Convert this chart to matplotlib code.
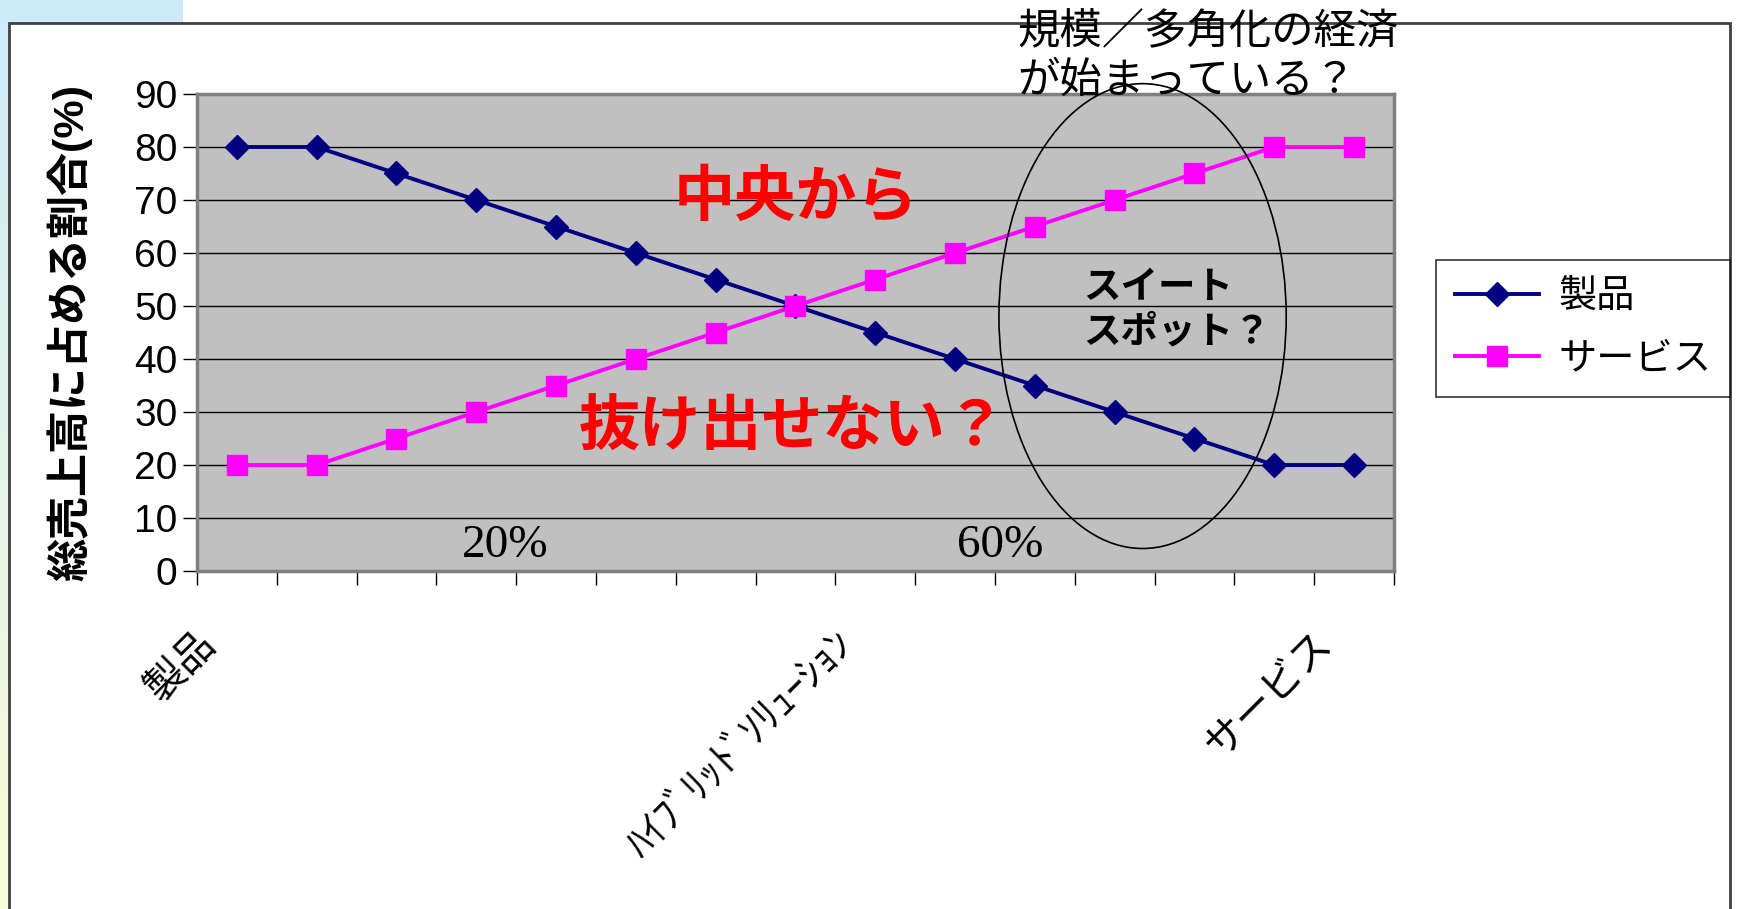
import numpy as np
import matplotlib
matplotlib.use("Agg")
import matplotlib.pyplot as plt
from matplotlib.patches import Ellipse, Rectangle
from matplotlib.transforms import ScaledTranslation

plt.rcParams['font.family'] = ['Liberation Sans', 'Noto Sans CJK JP']

# data
categories = ['製品', '', '', '', '', '', '', '', 'ﾊｲﾌﾞﾘｯﾄﾞｿﾘｭｰｼｮﾝ',
              '', '', '', '', '', 'サービス']
product = [80, 80, 75, 70, 65, 60, 55, 50, 45, 40, 35, 30, 25, 20, 20]
service = [20, 20, 25, 30, 35, 40, 45, 50, 55, 60, 65, 70, 75, 80, 80]
series_names = ['製品', 'サービス']
y_ticks = [0, 10, 20, 30, 40, 50, 60, 70, 80, 90]


def main():
    fig = plt.figure(figsize=(17.37, 9.09), dpi=100)
    fig.patch.set_facecolor('white')

    # slide background (gradient on the left)
    bg = fig.add_axes([0, 0, 1, 1], zorder=-10)
    bg.axis('off')
    top = np.array([0.80, 0.92, 0.98])
    bottom = np.array([0.98, 0.99, 0.84])
    t = np.linspace(0, 1, 256).reshape(-1, 1, 1)
    img = top * (1 - t) + bottom * t
    bg.imshow(img, extent=[0, 0.105, 0, 1], aspect='auto')
    bg.set_xlim(0, 1)
    bg.set_ylim(0, 1)

    # chart frame
    frame = Rectangle((0.0052, -0.02), 0.9908, 0.9947, transform=fig.transFigure,
                      facecolor='white', edgecolor='#404040', lw=2, zorder=-5)
    fig.add_artist(frame)

    ax = fig.add_axes([0.1134, 0.3718, 0.6891, 0.5248])
    ax.set_facecolor('#C0C0C0')
    x = np.arange(len(product))

    ax.plot(x, product, color='#000080', lw=2.8, marker='D', ms=12,
            mec='#000080', label=series_names[0], zorder=3, clip_on=False)
    ax.plot(x, service, color='#FF00FF', lw=2.8, marker='s', ms=14,
            mec='#FF00FF', label=series_names[1], zorder=3, clip_on=False)

    ax.set_xlim(-0.5, len(product) - 0.5)
    ax.set_ylim(0, 90)
    ax.set_yticks(y_ticks)
    ax.yaxis.grid(True, color='black', lw=1)
    ax.set_axisbelow(True)
    for s in ax.spines.values():
        s.set_color('#808080')
        s.set_linewidth(2.5)

    ax.tick_params(axis='y', direction='out', length=10, width=1, pad=4,
                   labelsize=28, color='black')
    ax.set_xticks(x)
    ax.set_xticklabels(categories, rotation=45, ha='right', va='center',
                       rotation_mode='anchor', fontsize=29)
    ax.tick_params(axis='x', which='major', length=0, pad=48)
    ax.set_xticks(np.arange(-0.5, len(product), 1), minor=True)
    ax.tick_params(axis='x', which='minor', direction='out', length=10,
                   width=1, color='black')
    for lab in ax.get_xticklabels():
        lab.set_transform(lab.get_transform() +
                          ScaledTranslation(-20 / 72, 0, fig.dpi_scale_trans))

    ax.set_ylabel('総売上高に占める割合(%)', fontsize=31, fontweight='bold')
    ax.yaxis.set_label_coords(-0.087, 0.5)

    # annotations
    ax.text(7.0, 70, '中央から', color='#FF0000', fontsize=44,
            fontweight='bold', style='italic', ha='center', va='center')
    ax.text(6.96, 26.6, '抜け出せない？', color='#FF0000', fontsize=44,
            fontweight='bold', style='italic', ha='center', va='center')
    ax.text(3.36, 4.7, '20%', fontsize=34, family='Liberation Serif',
            ha='center', va='center')
    ax.text(9.56, 4.7, '60%', fontsize=34, family='Liberation Serif',
            ha='center', va='center')
    ax.add_patch(Ellipse((11.35, 48.1), 3.6, 87.7, fill=False, ec='black',
                         lw=1.2, clip_on=False, zorder=4))
    ax.text(10.6, 49.2, 'スイート\nスポット？', fontsize=27, fontweight='bold',
            ha='left', va='center', linespacing=1.3)
    ax.text(9.78, 96.9, '規模／多角化の経済\nが始まっている？', fontsize=30.5,
            ha='left', va='center', linespacing=1.3, zorder=5)

    leg = ax.legend(loc='upper left', bbox_to_anchor=(0.8267, 0.714),
                    bbox_transform=fig.transFigure, fontsize=27.5, frameon=True,
                    fancybox=False, edgecolor='black', handlelength=2.2,
                    borderaxespad=0, labelspacing=0.7, borderpad=0.5,
                    handletextpad=0.5)
    leg.get_frame().set_linewidth(1.2)

    fig.savefig('out.png', dpi=100)


if __name__ == "__main__":
    main()
